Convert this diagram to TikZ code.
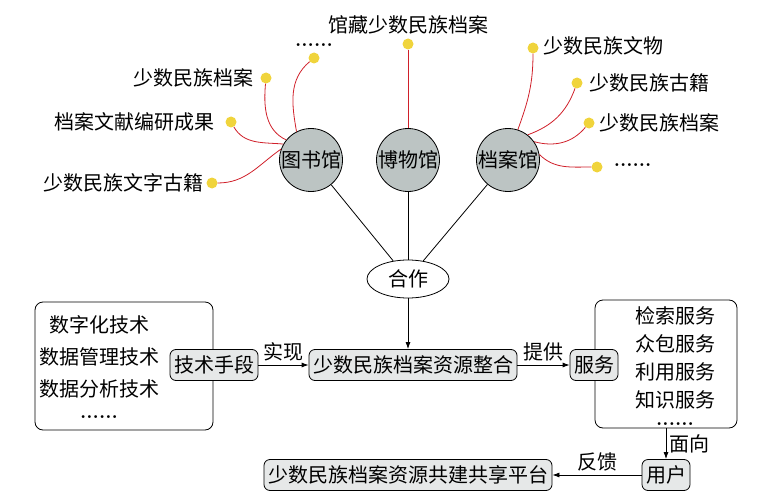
\documentclass[tikz,border=0pt]{standalone}
\usepackage{fontspec}
\newfontfamily\cjk{Noto Sans CJK SC}
\usetikzlibrary{arrows.meta, positioning, shapes.geometric}

\definecolor{hallgray}{HTML}{BCC4C3}
\definecolor{boxgray}{HTML}{E6E8E8}
\definecolor{dotyellow}{HTML}{F0D43C}
\definecolor{linkred}{HTML}{D0202A}

\newcommand{\moredots}{{\rmfamily\bfseries ......}}

\begin{document}
\begin{tikzpicture}[
        x=1pt, y=1pt,
        every node/.style={font=\cjk\fontsize{20}{22}\selectfont},
        hall/.style={circle, draw, thick, fill=hallgray, minimum size=63pt, inner sep=0pt},
        arrow/.style={-{Latex[length=7pt, width=5pt]}, thick}
    ]

    \tikzset{
    dot/.style={circle, fill=dotyellow, minimum size=11pt, inner sep=0pt},
    link/.style={linkred, thick},
    tag/.style={inner sep=1pt},
    stage/.style={draw, thick, rounded corners=6pt, fill=boxgray, minimum height=31pt, inner xsep=4pt, inner ysep=2pt},
    panel/.style={draw, thick, rounded corners=8pt, fill=white}
}

    \useasboundingbox (0,0) rectangle (773,-500);

    \node[hall] (lib) at (311,-160) {图书馆};
    \node[hall] (mus) at (408,-160) {博物馆};
    \node[hall] (arc) at (508,-160) {档案馆};
    \node[ellipse, draw, thick, minimum width=82pt, minimum height=38pt, inner sep=0pt] (coop) at (408,-279) {合作};

    \node[dot] (ltop) at (314,-58) {};
    \node[dot] (l1) at (266,-78) {};
    \node[dot] (l2) at (231,-122) {};
    \node[dot] (l3) at (212,-183) {};
    \node[dot] (mtop) at (408,-44) {};
    \node[dot] (r1) at (533,-48) {};
    \node[dot] (r2) at (577,-83) {};
    \node[dot] (r3) at (589,-123) {};
    \node[dot] (r4) at (597,-167) {};

    \node[tag, above=5pt of ltop] {\moredots};
    \node[tag, left=6pt of l1] {少数民族档案};
    \node[tag, left=10pt of l2] {档案文献编研成果};
    \node[tag, left=2pt of l3] {少数民族文字古籍};
    \node[tag, above=3pt of mtop] {馆藏少数民族档案};
    \node[tag, right=4pt of r1, yshift=2pt] {少数民族文物};
    \node[tag, right=6pt of r2] {少数民族古籍};
    \node[tag, right=4pt of r3] {少数民族档案};
    \node[tag, right=10pt of r4, yshift=2pt] {\moredots};

    \draw[link] (ltop) to[out=-140, in=100] (lib.117);
    \draw[link] (l1) to[out=-95, in=155] (lib.141);
    \draw[link] (l2) to[out=-60, in=175] (lib.150);
    \draw[link] (l3) to[out=0, in=-145] (lib.160);
    \draw[link] (mtop) -- (mus);
    \draw[link] (arc.72) to[out=70, in=-90] (r1);
    \draw[link] (arc.52) to[out=20, in=-110] (r2);
    \draw[link] (arc.35) to[out=-15, in=-130] (r3);
    \draw[link] (arc.10) to[out=-45, in=180] (r4);

    \draw[thick] (lib) -- (coop);
    \draw[thick] (mus) -- (coop);
    \draw[thick] (arc) -- (coop);

    \node[panel, minimum width=178pt, minimum height=128pt] (techpanel) at (124,-366) {};
    \node[align=center, anchor=north, font=\cjk\fontsize{20}{32}\selectfont] (techlist) at (99,-312) {数字化技术\\数据管理技术\\数据分析技术\\[-10pt]\moredots};
    \node[panel, minimum width=142pt, minimum height=128pt] (servepanel) at (666,-364) {};
    \node[align=center, anchor=north, font=\cjk\fontsize{20}{28}\selectfont] (servelist) at (675,-303) {检索服务\\众包服务\\利用服务\\知识服务\\[-10pt]\moredots};

    \node[stage] (merge) at (413,-365) {少数民族档案资源整合};
    \node[stage] (tech) at (214,-365) {技术手段};
    \node[stage] (serve) at (594,-365) {服务};
    \node[stage] (user) at (666,-475) {用户};
    \node[stage] (platform) at (408,-475) {少数民族档案资源共建共享平台};

    \draw[arrow] (coop) -- (coop |- merge.north);
    \draw[arrow] (tech) -- node[above] {实现} (merge);
    \draw[arrow] (merge) -- node[above] {提供} (serve);
    \draw[arrow] (servepanel) -- node[right] {面向} (user);
    \draw[arrow] (user) -- node[above] {反馈} (platform);
    \end{tikzpicture}
\end{document}
